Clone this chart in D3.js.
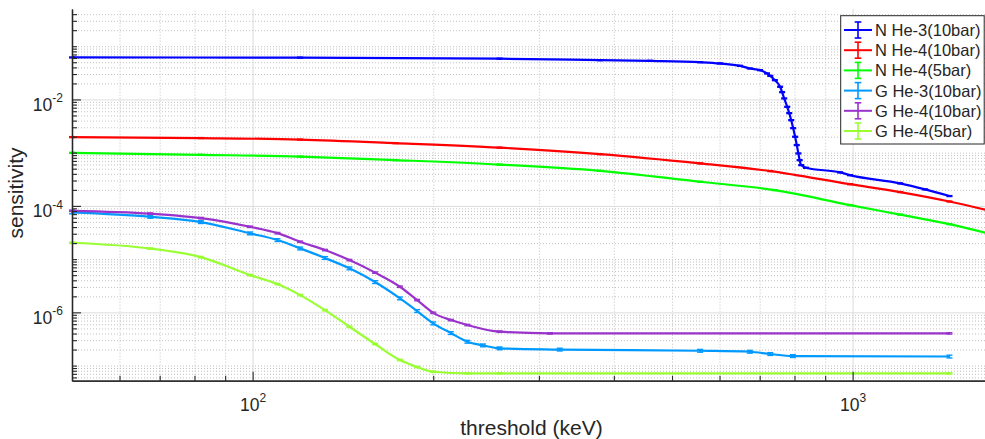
<!DOCTYPE html>
<html>
<head>
<meta charset="utf-8">
<script src="https://cdn.jsdelivr.net/npm/d3@7"></script>
<style>
body { margin: 0; background: #fff; }
svg { display: block; font-family: "Liberation Sans", Arial, Helvetica, sans-serif; }
</style>
</head>
<body>
<svg id="chart" width="985" height="439"></svg>
<script>
// values (threshold in keV, sensitivity)
const seriesNames = ["N He-3(10bar)", "N He-4(10bar)", "N He-4(5bar)", "G He-3(10bar)", "G He-4(10bar)", "G He-4(5bar)"];
const seriesColors = ["#0000ff", "#ff0000", "#00ff00", "#0099ff", "#9933cc", "#99ff33"];

const nHe3x = [50, 120, 258, 379, 460, 557, 601, 649, 674, 701, 720, 729, 742, 757, 763, 769, 778, 784, 790, 796, 802, 807, 812, 816, 821, 836, 953, 990, 1200, 1321, 1450];
const nHe3y = [0.0615, 0.0610, 0.0583, 0.0547, 0.0531, 0.0501, 0.0474, 0.0428, 0.0382, 0.0355, 0.0308, 0.0277, 0.0230, 0.0173, 0.0137, 0.01045, 0.00726, 0.00553, 0.00408, 0.00289, 0.00199, 0.00139, 0.000968, 0.000724, 0.000583, 0.000520, 0.000426, 0.000378, 0.000265, 0.000204, 0.000153];

const nHe4x = [50, 82, 120, 173, 258, 379, 557, 729, 990, 1200, 1450, 1700];
const nHe4y = [0.00196, 0.00188, 0.00176, 0.00151, 0.00124, 0.000939, 0.000628, 0.000451, 0.000256, 0.000182, 0.000121, 0.000080];

const nHe4lx = [50, 82, 120, 173, 258, 379, 557, 742, 990, 1200, 1450, 1700];
const nHe4ly = [0.000993, 0.000912, 0.000844, 0.000725, 0.000597, 0.000456, 0.000284, 0.000198, 0.0001035, 0.0000685, 0.0000455, 0.0000295];

const gHe3x = [50, 67.5, 82, 99, 110, 120, 132, 145, 160, 176, 188, 200, 214, 228, 242, 258, 325, 557, 674, 729, 795, 1450];
const gHe3y = [7.55e-5, 6.24e-5, 4.97e-5, 3.05e-5, 2.28e-5, 1.59e-5, 1.05e-5, 6.71e-6, 3.71e-6, 1.83e-6, 1.06e-6, 6.21e-7, 4.09e-7, 2.81e-7, 2.4e-7, 2.11e-7, 2.00e-7, 1.90e-7, 1.82e-7, 1.65e-7, 1.51e-7, 1.48e-7];

const gHe4x = [50, 67.5, 82, 99, 110, 120, 132, 145, 160, 176, 188, 200, 214, 228, 258, 313, 1450];
const gHe4y = [8.09e-5, 7.16e-5, 5.90e-5, 4.05e-5, 3.08e-5, 2.12e-5, 1.48e-5, 9.6e-6, 5.58e-6, 3.03e-6, 1.70e-6, 9.8e-7, 7.16e-7, 5.78e-7, 4.33e-7, 4.03e-7, 4.03e-7];

const gHe4lx = [50, 67.5, 82, 99, 110, 120, 132, 145, 160, 176, 188, 200, 228, 258, 1450];
const gHe4ly = [2.03e-5, 1.58e-5, 1.09e-5, 5.01e-6, 3.40e-6, 2.11e-6, 1.10e-6, 5.37e-7, 2.54e-7, 1.27e-7, 9.4e-8, 7.66e-8, 7.14e-8, 7.14e-8, 7.14e-8];

// relative error of each series
const relErr = [0.02, 0.02, 0.02, 0.06, 0.03, 0.03];

const xMajorTicks = [100, 1000];
const yMajorTicks = [1e-6, 1e-4, 1e-2];
const xLabel = "threshold (keV)";
const yLabel = "sensitivity";

const seriesX = [nHe3x, nHe4x, nHe4lx, gHe3x, gHe4x, gHe4lx];
const seriesY = [nHe3y, nHe4y, nHe4ly, gHe3y, gHe4y, gHe4ly];

const plot = {left: 72, right: 990.9, top: 9, bottom: 380.7};
const textColor = "#262626";

const svg = d3.select("#chart");

const x = d3.scaleLog().domain([50, 1700]).range([plot.left, plot.right]);
const y = d3.scaleLog().domain([5.2e-8, 0.5]).range([plot.bottom, plot.top]);

// minor tick positions: 1..9 in every decade, major ones removed
let xMinor = [], yMinor = [];
for (let e = 1; e <= 3; e++) {
    for (let m = 1; m < 10; m++) {
        const v = m * Math.pow(10, e);
        if (v > 50 && v < 1700 && !xMajorTicks.includes(v)) xMinor.push(v);
    }
}
for (let e = -8; e <= -1; e++) {
    for (let m = 1; m < 10; m++) {
        const v = +(m * Math.pow(10, e)).toPrecision(3);
        const isMajor = yMajorTicks.some(t => Math.abs(t - v) / t < 1e-6);
        if (v > 5.2e-8 && v < 0.5 && !isMajor) yMinor.push(v);
    }
}

const width = plot.right - plot.left;
const height = plot.bottom - plot.top;

// grids
const gridMinorX = svg.append("g").attr("transform", "translate(0," + plot.bottom + ")")
    .call(d3.axisBottom(x).tickValues(xMinor).tickSize(-height).tickFormat(""));
const gridMinorY = svg.append("g").attr("transform", "translate(" + plot.left + ",0)")
    .call(d3.axisLeft(y).tickValues(yMinor).tickSize(-width).tickFormat(""));
[gridMinorX, gridMinorY].forEach(g => {
    g.select(".domain").remove();
    g.selectAll("line").attr("stroke", "#c2c2c2").attr("stroke-dasharray", "1,2");
});
const gridMajorX = svg.append("g").attr("transform", "translate(0," + plot.bottom + ")")
    .call(d3.axisBottom(x).tickValues(xMajorTicks).tickSize(-height).tickFormat(""));
const gridMajorY = svg.append("g").attr("transform", "translate(" + plot.left + ",0)")
    .call(d3.axisLeft(y).tickValues(yMajorTicks).tickSize(-width).tickFormat(""));
[gridMajorX, gridMajorY].forEach(g => {
    g.select(".domain").remove();
    g.selectAll("line").attr("stroke", "#dcdcdc");
});

// data lines with error bars
const line = d3.line()
    .x(d => x(d[0]))
    .y(d => y(d[1]))
    .curve(d3.curveMonotoneX);

seriesX.forEach((xs, i) => {
    const pts = xs.map((v, j) => [v, seriesY[i][j]]);
    const g = svg.append("g").attr("class", "series s" + i);
    g.append("path")
        .attr("d", line(pts))
        .attr("fill", "none")
        .attr("stroke", seriesColors[i])
        .attr("stroke-width", 2.2);
    const bars = g.selectAll(".eb").data(pts).enter().append("g").attr("class", "eb")
        .attr("stroke", seriesColors[i]).attr("stroke-width", 1.4);
    bars.append("line")
        .attr("x1", d => x(d[0])).attr("x2", d => x(d[0]))
        .attr("y1", d => y(d[1] * (1 - relErr[i]))).attr("y2", d => y(d[1] * (1 + relErr[i])));
    bars.append("line")
        .attr("x1", d => x(d[0]) - 3).attr("x2", d => x(d[0]) + 3)
        .attr("y1", d => y(d[1] * (1 - relErr[i]))).attr("y2", d => y(d[1] * (1 - relErr[i])));
    bars.append("line")
        .attr("x1", d => x(d[0]) - 3).attr("x2", d => x(d[0]) + 3)
        .attr("y1", d => y(d[1] * (1 + relErr[i]))).attr("y2", d => y(d[1] * (1 + relErr[i])));
});

// axes, ticks pointing inward
function styleAxis(g) {
    g.select(".domain").attr("stroke", textColor).attr("stroke-width", 1.3);
    g.selectAll("line").attr("stroke", textColor).attr("stroke-width", 1.1);
}
const xAxisMinor = svg.append("g").attr("transform", "translate(0," + plot.bottom + ")")
    .call(d3.axisBottom(x).tickValues(xMinor).tickSizeInner(-5).tickSizeOuter(0).tickFormat(""));
const yAxisMinor = svg.append("g").attr("transform", "translate(" + plot.left + ",0)")
    .call(d3.axisLeft(y).tickValues(yMinor).tickSizeInner(-5).tickSizeOuter(0).tickFormat(""));
const xAxis = svg.append("g").attr("transform", "translate(0," + plot.bottom + ")")
    .call(d3.axisBottom(x).tickValues(xMajorTicks).tickSizeInner(-9).tickSizeOuter(0).tickPadding(0));
const yAxis = svg.append("g").attr("transform", "translate(" + plot.left + ",0)")
    .call(d3.axisLeft(y).tickValues(yMajorTicks).tickSizeInner(-9).tickSizeOuter(0).tickPadding(9));
[xAxisMinor, yAxisMinor, xAxis, yAxis].forEach(styleAxis);

function powerLabel(sel, baseY) {
    sel.each(function(d) {
        const e = Math.round(Math.log10(d));
        const t = d3.select(this).text(null)
            .attr("dy", null).attr("y", baseY)
            .attr("fill", textColor).attr("font-size", 17.5)
            .attr("font-family", "'Liberation Sans', Arial, sans-serif");
        t.append("tspan").text("10");
        t.append("tspan").attr("dy", -8.5).attr("font-size", 12).text(e);
    });
}
xAxis.selectAll(".tick text").call(powerLabel, 30);
yAxis.selectAll(".tick text").call(powerLabel, 10.7);

// axis titles
svg.append("text")
    .attr("x", (plot.left + plot.right) / 2)
    .attr("y", 435)
    .attr("text-anchor", "middle")
    .attr("font-size", 21)
    .attr("fill", textColor)
    .text(xLabel);
svg.append("text")
    .attr("transform", "translate(23," + 193 + ") rotate(-90)")
    .attr("text-anchor", "middle")
    .attr("font-size", 21)
    .attr("fill", textColor)
    .text(yLabel);

// legend
const legend = svg.append("g").attr("class", "legend");
legend.append("rect")
    .attr("x", 840.7).attr("y", 15.7)
    .attr("width", 143.5).attr("height", 128.3)
    .attr("fill", "#fff").attr("stroke", textColor).attr("stroke-width", 1);
const rows = legend.selectAll(".row").data(seriesNames).enter().append("g")
    .attr("class", "row")
    .attr("transform", (d, i) => "translate(0," + (30 + i * 20.2) + ")");
rows.each(function(d, i) {
    const r = d3.select(this).attr("stroke", seriesColors[i]).attr("stroke-width", 1.6);
    r.append("line").attr("x1", 844).attr("x2", 872).attr("y1", 0).attr("y2", 0).attr("stroke-width", 2);
    r.append("line").attr("x1", 858).attr("x2", 858).attr("y1", -8).attr("y2", 8);
    r.append("line").attr("x1", 854.7).attr("x2", 861.3).attr("y1", -8).attr("y2", -8);
    r.append("line").attr("x1", 854.7).attr("x2", 861.3).attr("y1", 8).attr("y2", 8);
    r.append("text")
        .attr("x", 875).attr("y", 6)
        .attr("stroke", "none")
        .attr("fill", textColor)
        .attr("font-size", 16.5)
        .text(d);
});
</script>
</body>
</html>
